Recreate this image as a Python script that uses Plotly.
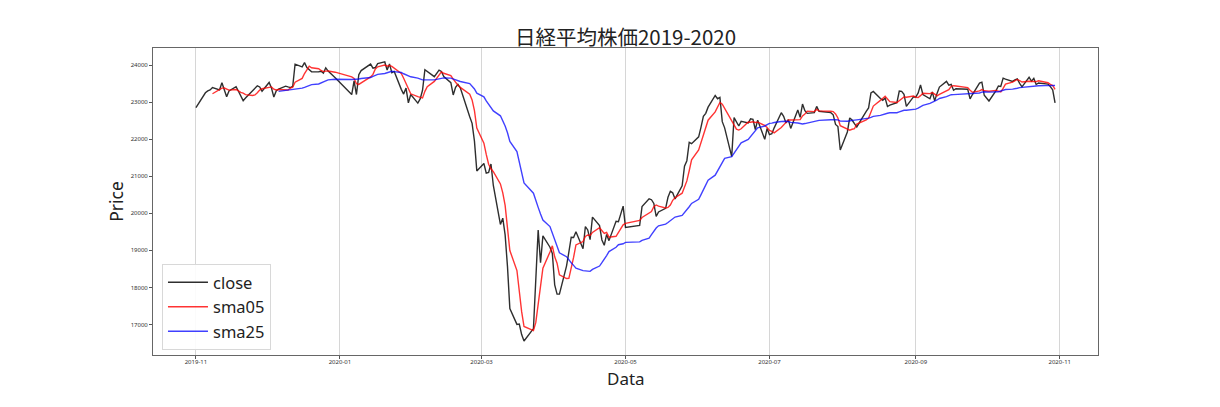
import plotly.graph_objects as go

dates = [
    "2019-11-01","2019-11-05","2019-11-06","2019-11-07","2019-11-08","2019-11-11","2019-11-12","2019-11-13","2019-11-14","2019-11-15",
    "2019-11-18","2019-11-19","2019-11-20","2019-11-21","2019-11-22","2019-11-25","2019-11-26","2019-11-27","2019-11-28","2019-11-29",
    "2019-12-02","2019-12-03","2019-12-04","2019-12-05","2019-12-06","2019-12-09","2019-12-10","2019-12-11","2019-12-12","2019-12-13",
    "2019-12-16","2019-12-17","2019-12-18","2019-12-19","2019-12-20","2019-12-23","2019-12-24","2019-12-25","2019-12-26","2019-12-27",
    "2019-12-30","2020-01-06","2020-01-07","2020-01-08","2020-01-09","2020-01-10","2020-01-14","2020-01-15","2020-01-16","2020-01-17",
    "2020-01-20","2020-01-21","2020-01-22","2020-01-23","2020-01-24","2020-01-27","2020-01-28","2020-01-29","2020-01-30","2020-01-31",
    "2020-02-03","2020-02-04","2020-02-05","2020-02-06","2020-02-07","2020-02-10","2020-02-12","2020-02-13","2020-02-14","2020-02-17",
    "2020-02-18","2020-02-19","2020-02-20","2020-02-21","2020-02-25","2020-02-26","2020-02-27","2020-02-28","2020-03-02","2020-03-03",
    "2020-03-04","2020-03-05","2020-03-06","2020-03-09","2020-03-10","2020-03-11","2020-03-12","2020-03-13","2020-03-16","2020-03-17",
    "2020-03-18","2020-03-19","2020-03-23","2020-03-24","2020-03-25","2020-03-26","2020-03-27","2020-03-30","2020-03-31","2020-04-01",
    "2020-04-02","2020-04-03","2020-04-06","2020-04-07","2020-04-08","2020-04-09","2020-04-10","2020-04-13","2020-04-14","2020-04-15",
    "2020-04-16","2020-04-17","2020-04-20","2020-04-21","2020-04-22","2020-04-23","2020-04-24","2020-04-27","2020-04-28","2020-04-30",
    "2020-05-01","2020-05-07","2020-05-08","2020-05-11","2020-05-12","2020-05-13","2020-05-14","2020-05-15","2020-05-18","2020-05-19",
    "2020-05-20","2020-05-21","2020-05-22","2020-05-25","2020-05-26","2020-05-27","2020-05-28","2020-05-29","2020-06-01","2020-06-02",
    "2020-06-03","2020-06-04","2020-06-05","2020-06-08","2020-06-09","2020-06-10","2020-06-11","2020-06-12","2020-06-15","2020-06-16",
    "2020-06-17","2020-06-18","2020-06-19","2020-06-22","2020-06-23","2020-06-24","2020-06-25","2020-06-26","2020-06-29","2020-06-30",
    "2020-07-01","2020-07-02","2020-07-03","2020-07-06","2020-07-07","2020-07-08","2020-07-09","2020-07-10","2020-07-13","2020-07-14",
    "2020-07-15","2020-07-16","2020-07-17","2020-07-20","2020-07-21","2020-07-22","2020-07-27","2020-07-28","2020-07-29","2020-07-30",
    "2020-07-31","2020-08-03","2020-08-04","2020-08-05","2020-08-06","2020-08-07","2020-08-11","2020-08-12","2020-08-13","2020-08-14",
    "2020-08-17","2020-08-18","2020-08-19","2020-08-20","2020-08-21","2020-08-24","2020-08-25","2020-08-26","2020-08-27","2020-08-28",
    "2020-08-31","2020-09-01","2020-09-02","2020-09-03","2020-09-04","2020-09-07","2020-09-08","2020-09-09","2020-09-10","2020-09-11",
    "2020-09-14","2020-09-15","2020-09-16","2020-09-17","2020-09-18","2020-09-23","2020-09-24","2020-09-25","2020-09-28","2020-09-29",
    "2020-09-30","2020-10-02","2020-10-05","2020-10-06","2020-10-07","2020-10-08","2020-10-09","2020-10-12","2020-10-13","2020-10-14",
    "2020-10-15","2020-10-16","2020-10-19","2020-10-20","2020-10-21","2020-10-22","2020-10-23","2020-10-26","2020-10-27","2020-10-28",
    "2020-10-29","2020-10-30",
]

close = [
    22851,23252,23304,23330,23392,23332,23520,23320,23142,23303,
    23417,23293,23149,23039,23113,23293,23373,23438,23409,23294,
    23530,23380,23135,23300,23354,23431,23410,23392,23425,24023,
    23952,24066,23934,23865,23817,23821,23831,23783,23925,23838,
    23657,23205,23576,23205,23740,23851,24025,23917,23933,24041,
    24084,23865,24031,23795,23827,23344,23216,23379,22978,23205,
    22972,23085,23320,23874,23828,23686,23861,23828,23688,23523,
    23194,23401,23479,23387,22605,22426,21948,21143,21344,21083,
    21100,21329,20750,19699,19867,19416,18560,17431,17002,17012,
    16727,16553,16888,18092,19547,18665,19389,19085,18917,18065,
    17819,17820,18576,18950,19353,19346,19499,19043,19639,19550,
    19290,19897,19669,19281,19138,19429,19262,19783,19771,20194,
    19619,19675,20179,20391,20366,20267,19915,20037,20134,20433,
    20595,20552,20388,20742,21271,21419,21916,21878,22062,22326,
    22614,22696,22864,23178,23091,23125,22473,22305,21531,22582,
    22456,22355,22479,22437,22549,22534,22260,22512,21995,22288,
    22122,22146,22306,22714,22615,22439,22529,22291,22785,22587,
    22946,22770,22696,22717,22884,22752,22716,22657,22397,22339,
    21710,22195,22574,22515,22418,22330,22750,22844,23250,23289,
    23097,23051,23111,22881,22920,22986,23297,23291,23209,22883,
    23140,23138,23247,23466,23205,23090,23274,23033,23235,23406,
    23559,23455,23476,23319,23360,23346,23088,23205,23512,23539,
    23185,23030,23312,23434,23423,23647,23620,23559,23602,23627,
    23507,23411,23671,23567,23639,23474,23517,23494,23486,23419,
    23332,22977,
]

# 5-day average, values from the 5th trading day (2019-11-08) onward
sma05 = [
    23226,23322,23376,23379,23341,23323,23340,23295,23261,23240,
    23202,23177,23193,23251,23325,23361,23409,23410,23350,23328,
    23340,23320,23326,23377,23402,23536,23640,23772,23880,23968,
    23927,23901,23854,23823,23835,23840,23807,23682,23640,23496,
    23477,23515,23679,23748,23893,23953,24000,23968,23991,23963,
    23920,23772,23643,23512,23349,23224,23150,23124,23112,23291,
    23416,23559,23714,23815,23778,23717,23619,23527,23457,23397,
    23213,23060,22769,22302,21893,21589,21324,21200,21121,20792,
    20549,20212,19658,18995,18455,17884,17346,16945,16836,17054,
    17561,17949,18516,18956,19121,18824,18655,18341,18239,18246,
    18504,18809,19145,19238,19376,19415,19404,19484,19609,19537,
    19455,19483,19356,19379,19477,19688,19726,19808,19888,20012,
    20046,20176,20224,20195,20144,20157,20223,20350,20420,20542,
    20710,20874,21147,21445,21709,21920,22159,22315,22512,22736,
    22889,22991,22946,22834,22505,22403,22269,22246,22281,22462,
    22455,22471,22452,22458,22370,22318,22235,22213,22171,22315,
    22381,22444,22521,22518,22532,22526,22628,22676,22757,22743,
    22803,22764,22753,22745,22681,22572,22364,22260,22243,22267,
    22282,22406,22517,22571,22718,22893,23046,23106,23160,23086,
    23012,22990,23039,23075,23141,23133,23164,23132,23123,23175,
    23239,23229,23256,23214,23167,23208,23301,23338,23426,23443,
    23434,23391,23318,23264,23302,23338,23306,23294,23316,23300,
    23277,23369,23487,23537,23570,23611,23583,23541,23564,23557,
    23559,23552,23574,23538,23522,23478,23450,23342,
]

# 25-day average, values from the 25th trading day (2019-12-06) onward
sma25 = [
    23291,23314,23320,23324,23327,23353,23377,23399,23424,23453,
    23473,23489,23511,23536,23572,23601,23615,23609,23614,23606,
    23624,23637,23662,23694,23719,23747,23773,23791,23816,23831,
    23823,23799,23765,23743,23707,23683,23649,23619,23601,23599,
    23598,23599,23626,23636,23655,23646,23620,23595,23578,23556,
    23498,23432,23355,23240,23142,23032,22942,22867,22762,22630,
    22497,22355,22174,21938,21663,21391,21112,20820,20542,20318,
    20159,19978,19818,19642,19463,19282,19097,18932,18829,18734,
    18665,18594,18521,18453,18450,18438,18433,18486,18576,18667,
    18752,18860,18968,19084,19151,19177,19215,19227,19271,19330,
    19422,19520,19603,19662,19709,19752,19802,19844,19898,19942,
    20011,20096,20177,20265,20377,20504,20632,20769,20892,21028,
    21144,21285,21397,21482,21527,21616,21703,21801,21899,21991,
    22075,22153,22221,22306,22356,22397,22425,22434,22451,22478,
    22489,22482,22475,22453,22437,22417,22409,22421,22437,22484,
    22497,22508,22523,22530,22528,22520,22487,22484,22487,22508,
    22513,22521,22545,22567,22588,22615,22642,22662,22695,22699,
    22712,22714,22735,22759,22779,22779,22794,22811,22835,22877,
    22912,22967,23010,23029,23057,23097,23146,23174,23200,23202,
    23205,23215,23217,23220,23246,23270,23278,23268,23269,23278,
    23299,23319,23339,23351,23357,23373,23390,23396,23421,23434,
    23444,23440,23443,23444,23450,23453,23452,23448,
]

series_names = ["close", "sma05", "sma25"]
series_colors = ["rgba(0,0,0,0.82)", "rgba(255,0,0,0.8)", "rgba(0,0,255,0.75)"]

x_ticks = ["2019-11-01", "2020-01-01", "2020-03-01", "2020-05-01", "2020-07-01", "2020-09-01", "2020-11-01"]
x_ticklabels = ["2019-11", "2020-01", "2020-03", "2020-05", "2020-07", "2020-09", "2020-11"]
y_ticks = [17000, 18000, 19000, 20000, 21000, 22000, 23000, 24000]

fig = go.Figure()
fig.add_trace(go.Scatter(x=dates, y=close, mode="lines", name=series_names[0],
                         line=dict(color=series_colors[0], width=1.4)))
fig.add_trace(go.Scatter(x=dates[len(dates) - len(sma05):], y=sma05, mode="lines", name=series_names[1],
                         line=dict(color=series_colors[1], width=1.4)))
fig.add_trace(go.Scatter(x=dates[len(dates) - len(sma25):], y=sma25, mode="lines", name=series_names[2],
                         line=dict(color=series_colors[2], width=1.4)))

cjk_font = "Noto Sans CJK JP, Noto Sans, sans-serif"
latin_font = "Noto Sans, Open Sans, sans-serif"

fig.update_layout(
    width=1220, height=407,
    margin=dict(l=153, r=122, t=48, b=52),
    paper_bgcolor="white", plot_bgcolor="white",
    font=dict(family=latin_font, color="#222"),
    title=dict(text="日経平均株価2019-2020", x=0.5, xref="paper", xanchor="center",
               y=1 - 38 / 407, yref="container", yanchor="middle",
               font=dict(size=20.5, color="#222", family=cjk_font)),
    showlegend=True,
    legend=dict(x=0.0095, y=0.016, xanchor="left", yanchor="bottom",
                bgcolor="rgba(255,255,255,0.9)", bordercolor="#d8d8d8", borderwidth=1,
                font=dict(size=16.5, color="#222", family=latin_font),
                itemwidth=40, tracegroupgap=0),
    annotations=[dict(text="Data", xref="paper", yref="paper", x=0.5, y=-0.035,
                      xanchor="center", yanchor="top", showarrow=False, borderpad=0,
                      font=dict(size=17, color="#222", family=latin_font))],
)

fig.update_xaxes(
    type="date",
    range=["2019-10-13 19:12", "2020-11-17 04:48"],
    tickmode="array", tickvals=x_ticks, ticktext=x_ticklabels,
    tickfont=dict(size=6, color="#333"),
    ticks="outside", ticklen=3, tickcolor="#555",
    ticklabelstandoff=-2,
    showgrid=True, gridcolor="#d6d6d6", gridwidth=1,
    showline=True, linecolor="#666", linewidth=1, mirror=True,
    zeroline=False,
)
fig.update_yaxes(
    range=[16176, 24460],
    tickmode="array", tickvals=y_ticks, ticktext=[str(v) for v in y_ticks],
    tickfont=dict(size=6, color="#333"),
    ticks="outside", ticklen=3, tickcolor="#555",
    showgrid=False,
    showline=True, linecolor="#666", linewidth=1, mirror=True,
    zeroline=False,
    title=dict(text="Price", font=dict(size=17.5, color="#222", family=latin_font), standoff=2),
)

fig.write_html("out.html")
